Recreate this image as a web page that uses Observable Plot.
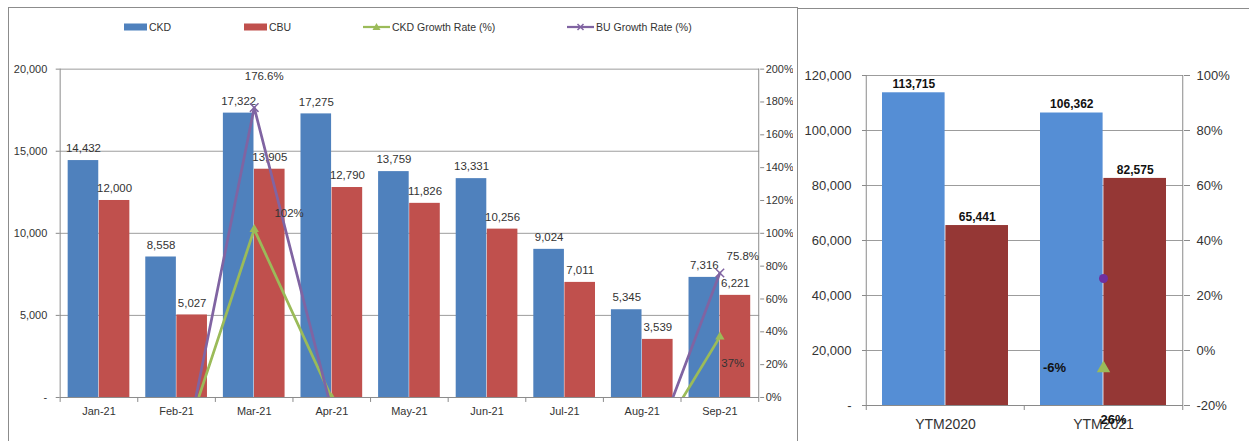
<!DOCTYPE html>
<html><head><meta charset="utf-8">
<script src="https://cdn.jsdelivr.net/npm/d3@7"></script>
<script src="https://cdn.jsdelivr.net/npm/@observablehq/plot@0.6"></script>
<style>
body{margin:0;background:#fff;font-family:"Liberation Sans",Arial,sans-serif;}
#wrap{position:relative;width:1249px;height:441px;overflow:hidden;background:#fff}
#left{position:absolute;left:0;top:0;width:793px;height:441px;overflow:hidden}
#right{position:absolute;left:797px;top:0;width:452px;height:441px;overflow:hidden}
.bl{position:absolute;left:8px;top:7px;width:789px;height:440px;border-left:1px solid #8c8c8c;border-top:1px solid #8c8c8c;pointer-events:none}
.br{position:absolute;left:797px;top:8px;width:460px;height:440px;border-left:1px solid #8c8c8c;border-top:1px solid #8c8c8c;pointer-events:none}
.legend{position:absolute;left:0;top:20px;font-size:10.5px;color:#333}
.item{position:absolute;top:0;height:14px;display:flex;align-items:center;white-space:nowrap}
.item svg{display:block;margin-right:2px}
</style></head>
<body>
<div id="wrap">
  <div id="left"></div>
  <div id="right"></div>
  <div class="bl"></div>
  <div class="br"></div>
  <div class="legend" id="legend"></div>
</div>
<script>
// ---- data: monthly panel ----
const months = ["Jan-21","Feb-21","Mar-21","Apr-21","May-21","Jun-21","Jul-21","Aug-21","Sep-21"];
const ckd = [14432, 8558, 17322, 17275, 13759, 13331, 9024, 5345, 7316];
const cbu = [12000, 5027, 13905, 12790, 11826, 10256, 7011, 3539, 6221];
// growth rates in percent (values below 0% fall outside the axis and are clipped)
const ckdGrowth = [null, -40.7, 102.4, -0.3, -20.4, -3.1, -32.3, -40.8, 36.9];
const cbuGrowth = [null, -58.1, 176.6, -8.0, -7.5, -13.3, -31.6, -49.5, 75.8];
const leftTicks = [0, 5000, 10000, 15000, 20000];
const rightPctTicks = [0, 20, 40, 60, 80, 100, 120, 140, 160, 180, 200];

// ---- data: year-to-month panel ----
const ytmCats = ["YTM2020", "YTM2021"];
const ytmCkd = [113715, 106362];
const ytmCbu = [65441, 82575];
const ytmCkdGrowth = [null, -6.47];
const ytmCbuGrowth = [null, 26.18];
const ytmLeftTicks = [0, 20000, 40000, 60000, 80000, 100000, 120000];
const ytmPctTicks = [-20, 0, 20, 40, 60, 80, 100];

const legendNames = ["CKD", "CBU", "CKD Growth Rate (%)", "BU Growth Rate (%)"];

const FONT = "'Liberation Sans', Arial, sans-serif";
const BLUE = "#4F81BD", RED = "#C0504D", GREEN = "#9BBB59", PURPLE = "#8064A2";
const BLUE2 = "#558ED5", RED2 = "#953735", PURPLE2 = "#7030A0";
const GRID = "#9c9c9c", AX = "#8a8a8a", TXT = "#333";
const fmtN = d3.format(",");
const fmtCount = d => d === 0 ? "-" : fmtN(d);
const pct0 = v => Math.round(v) + "%";
const pct1 = v => v.toFixed(1) + "%";

// ================= left panel =================
const W1 = 797, H = 441, ML1 = 60, MR1 = 34, MT1 = 69, MB1 = 42;
const step1 = (W1 - ML1 - MR1) / months.length;
const bw1 = step1 * 0.8;
const rows = months.map((m, i) => ({month: m, ckd: ckd[i], cbu: cbu[i], gCkd: ckdGrowth[i], gCbu: cbuGrowth[i]}));
const pctY = v => v == null ? undefined : v * 100; // 200% <-> 20,000 on the shared y scale
const vis = (r, k) => r[k] != null && r[k] >= 0;

const left = Plot.plot({
  width: W1, height: H, marginLeft: ML1, marginRight: MR1, marginTop: MT1, marginBottom: MB1,
  style: {fontFamily: FONT, fontSize: "11px", color: TXT, background: "transparent", overflow: "visible"},
  x: {domain: months, paddingInner: 0.2, paddingOuter: 0.1, label: null},
  y: {domain: [0, 20000], label: null},
  marks: [
    Plot.ruleY(leftTicks.slice(1), {stroke: GRID}),
    Plot.barY(rows, {x: "month", y: "ckd", fill: BLUE, insetRight: bw1 / 2}),
    Plot.barY(rows, {x: "month", y: "cbu", fill: RED, insetLeft: bw1 / 2}),
    Plot.ruleY([0], {stroke: AX}),
    Plot.ruleX([months[0]], {dx: -step1 / 2, stroke: AX, insetBottom: -5}),
    Plot.ruleX([months[months.length - 1]], {dx: step1 / 2, stroke: AX, insetBottom: -5}),
    Plot.ruleX(months.slice(1), {dx: -step1 / 2, y1: 0, y2: 0, insetBottom: -5, stroke: AX}),
    Plot.axisY({ticks: leftTicks, tickFormat: fmtCount, tickSize: 4, tickPadding: 9, stroke: AX, fill: TXT, fontSize: 11}),
    Plot.axisY({anchor: "right", ticks: rightPctTicks.map(p => p * 100), tickFormat: d => (d / 100) + "%", tickSize: 4, tickPadding: 2, stroke: AX, fill: TXT, fontSize: 11}),
    Plot.axisX({tickSize: 0, tickPadding: 10, fill: TXT, fontSize: 11}),
    Plot.text(rows, {x: "month", y: "ckd", text: d => fmtN(d.ckd), dx: -bw1 / 4, dy: -12, fill: TXT, fontSize: 11.5}),
    Plot.text(rows, {x: "month", y: "cbu", text: d => fmtN(d.cbu), dx: bw1 / 4, dy: -12, fill: TXT, fontSize: 11.5}),
    Plot.line(rows, {x: "month", y: d => pctY(d.gCkd), stroke: GREEN, strokeWidth: 2.75, clip: true}),
    Plot.dot(rows, {x: "month", y: d => pctY(d.gCkd), symbol: "triangle", fill: GREEN, r: 3.5, clip: true}),
    Plot.line(rows, {x: "month", y: d => pctY(d.gCbu), stroke: PURPLE, strokeWidth: 2.75, clip: true}),
    Plot.dot(rows, {x: "month", y: d => pctY(d.gCbu), symbol: "times", stroke: PURPLE, strokeWidth: 1.5, r: 4, clip: true}),
    // growth labels
    Plot.text(rows.filter(r => vis(r, "gCbu") && r.month === "Mar-21"), {x: "month", y: d => pctY(d.gCbu), text: d => pct1(d.gCbu), dx: 10, dy: -31, fill: TXT, fontSize: 11.5}),
    Plot.text(rows.filter(r => vis(r, "gCbu") && r.month === "Sep-21"), {x: "month", y: d => pctY(d.gCbu), text: d => pct1(d.gCbu), dx: 23, dy: -17, fill: TXT, fontSize: 11.5}),
    Plot.text(rows.filter(r => vis(r, "gCkd") && r.month === "Mar-21"), {x: "month", y: d => pctY(d.gCkd), text: d => pct0(d.gCkd), dx: 35, dy: -16, fill: TXT, fontSize: 11.5}),
    Plot.text(rows.filter(r => vis(r, "gCkd") && r.month === "Sep-21"), {x: "month", y: d => pctY(d.gCkd), text: d => pct0(d.gCkd), dx: 13, dy: 27, fill: TXT, fontSize: 11.5})
  ]
});
document.getElementById("left").appendChild(left);

// ================= right panel =================
const W2 = 452, ML2 = 69, MR2 = 66, MT2 = 75, MB2 = 36;
const step2 = (W2 - ML2 - MR2) / ytmCats.length;
const bw2 = step2 * 0.8;
const rows2 = ytmCats.map((c, i) => ({cat: c, ckd: ytmCkd[i], cbu: ytmCbu[i], gCkd: ytmCkdGrowth[i], gCbu: ytmCbuGrowth[i]}));
const pctY2 = v => v == null ? undefined : (v + 20) * 1000; // -20% <-> 0, 100% <-> 120,000

const right = Plot.plot({
  width: W2, height: H, marginLeft: ML2, marginRight: MR2, marginTop: MT2, marginBottom: MB2,
  style: {fontFamily: FONT, fontSize: "13px", color: TXT, background: "transparent"},
  x: {domain: ytmCats, paddingInner: 0.2, paddingOuter: 0.1, label: null},
  y: {domain: [0, 120000], label: null},
  marks: [
    Plot.ruleY(ytmLeftTicks.slice(1), {stroke: GRID}),
    Plot.barY(rows2, {x: "cat", y: "ckd", fill: BLUE2, insetRight: bw2 / 2}),
    Plot.barY(rows2, {x: "cat", y: "cbu", fill: RED2, insetLeft: bw2 / 2}),
    Plot.ruleY([0], {stroke: AX}),
    Plot.ruleX([ytmCats[0]], {dx: -step2 / 2, stroke: AX, insetBottom: -5}),
    Plot.ruleX([ytmCats[1]], {dx: step2 / 2, stroke: AX, insetBottom: -5}),
    Plot.ruleX(ytmCats.slice(1), {dx: -step2 / 2, y1: 0, y2: 0, insetBottom: -5, stroke: AX}),
    Plot.axisY({ticks: ytmLeftTicks, tickFormat: fmtCount, tickSize: 4, tickPadding: 11, stroke: AX, fill: TXT, fontSize: 13}),
    Plot.axisY({anchor: "right", ticks: ytmPctTicks.map(p => (p + 20) * 1000), tickFormat: d => (d / 1000 - 20) + "%", tickSize: 6, tickPadding: 7, stroke: AX, fill: TXT, fontSize: 13}),
    Plot.axisX({tickSize: 0, tickPadding: 14, fill: TXT, fontSize: 14}),
    Plot.text(rows2, {x: "cat", y: "ckd", text: d => fmtN(d.ckd), dx: -bw2 / 4, dy: -9, fill: "#111", fontSize: 12, fontWeight: "bold"}),
    Plot.text(rows2, {x: "cat", y: "cbu", text: d => fmtN(d.cbu), dx: bw2 / 4, dy: -8, fill: "#111", fontSize: 12, fontWeight: "bold"}),
    Plot.dot(rows2, {x: "cat", y: d => pctY2(d.gCbu), symbol: "circle", fill: PURPLE2, r: 4.5}),
    Plot.dot(rows2, {x: "cat", y: d => pctY2(d.gCkd), symbol: "triangle", fill: GREEN, r: 5}),
    Plot.text(rows2.filter(r => r.gCkd != null), {x: "cat", y: d => pctY2(d.gCkd), text: d => pct0(d.gCkd), dx: -49, fill: "#111", fontSize: 13, fontWeight: "bold"}),
    Plot.text(rows2.filter(r => r.gCbu != null), {x: "cat", y: d => pctY2(d.gCbu), text: d => pct0(d.gCbu), dx: 10, dy: 141, fill: "#111", fontSize: 13, fontWeight: "bold"})
  ]
});
document.getElementById("right").appendChild(right);

// ================= legend =================
const lg = d3.select("#legend");
const legendItems = [
  {name: legendNames[0], x: 124, kind: "rect", color: BLUE},
  {name: legendNames[1], x: 244, kind: "rect", color: RED},
  {name: legendNames[2], x: 363, kind: "tri", color: GREEN},
  {name: legendNames[3], x: 567, kind: "times", color: PURPLE}
];
legendItems.forEach(it => {
  const div = lg.append("div").attr("class", "item").style("left", it.x + "px");
  const w = it.kind === "rect" ? 23 : 27;
  const s = div.append("svg").attr("width", w).attr("height", 14);
  if (it.kind === "rect") {
    s.append("rect").attr("x", 0).attr("y", 3.5).attr("width", 23).attr("height", 7).attr("fill", it.color);
  } else {
    s.append("line").attr("x1", 0).attr("x2", w).attr("y1", 7).attr("y2", 7).attr("stroke", it.color).attr("stroke-width", 2.25);
    if (it.kind === "tri") {
      s.append("path").attr("d", "M13.5,3 L17.5,10 L9.5,10 Z").attr("fill", it.color);
    } else {
      s.append("path").attr("d", "M10.5,4 L16.5,10 M16.5,4 L10.5,10").attr("stroke", it.color).attr("stroke-width", 1.5);
    }
  }
  div.append("span").text(it.name);
});
</script>
</body></html>
